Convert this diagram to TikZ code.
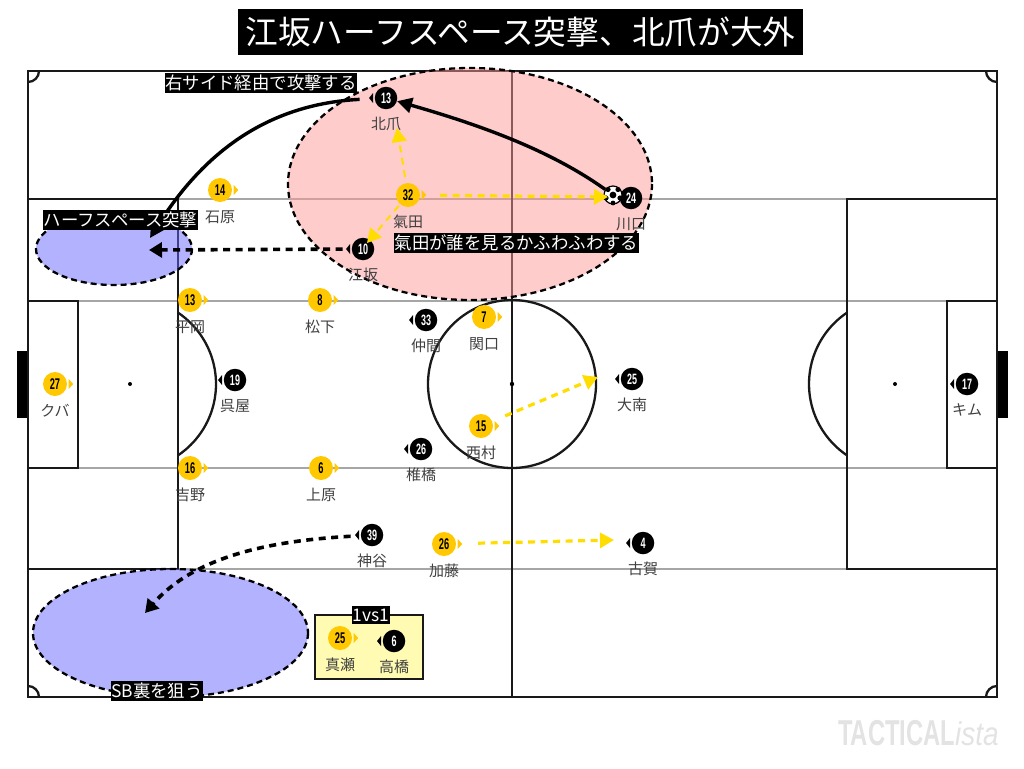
\documentclass[tikz,border=0pt]{standalone}
\usepackage{fontspec}
\newfontfamily\cjk{Noto Sans CJK JP}
\newfontfamily\numfont[FakeStretch=0.6]{Liberation Sans Bold}
\newfontfamily\logofont[FakeStretch=0.66]{Liberation Sans Bold}
\newfontfamily\logoita[FakeStretch=0.85]{Liberation Sans Italic}
\usetikzlibrary{arrows.meta, positioning, calc}

\definecolor{ycol}{HTML}{FFC800}
\definecolor{arrowy}{HTML}{FFDD00}
\definecolor{redzone}{HTML}{FF9999}
\definecolor{bluezone}{HTML}{6666FF}

\begin{document}
\begin{tikzpicture}[
    x=1pt, y=-1pt,
    node distance=7pt,
    % Styles
    pitchline/.style={draw=black!90, line width=2.3pt},
    midline/.style={draw=black!35, line width=2.2pt},
    zone/.style={draw=black, line width=2.3pt, dash pattern=on 6pt off 4pt, fill opacity=0.5},
    yp/.style={circle, fill=ycol, minimum size=24pt, inner sep=0pt, font=\numfont\fontsize{15.5}{15}\selectfont},
    kp/.style={circle, fill=black, text=white, minimum size=22.5pt, inner sep=0pt, font=\numfont\fontsize{15}{15}\selectfont},
    pname/.style={text=black!75, inner sep=0pt, font=\cjk\fontsize{15}{15}\selectfont, minimum height=15pt},
    tag/.style={fill=black, text=white, inner xsep=0.5pt, inner ysep=0pt, minimum height=20pt, font=\cjk\fontsize{17.4}{18}\selectfont},
    attack/.style={-{Triangle[length=15pt,width=15pt]}, line width=3.4pt},
    runk/.style={-{Triangle[length=13pt,width=15pt]}, line width=3.6pt, dash pattern=on 7pt off 5.5pt},
    runy/.style={-{Triangle[length=14pt,width=15pt]}, draw=arrowy, color=arrowy, line width=3.2pt, dash pattern=on 7pt off 5.5pt}
]
    \useasboundingbox (0,0) rectangle (1024,768);

    % --- PITCH ---
    \fill[black] (17,351) rectangle (28,418);
    \fill[black] (997,351) rectangle (1008,418);
    \draw[midline] (178,199) -- (847,199);
    \draw[midline] (78,301) -- (947,301);
    \draw[midline] (78,468) -- (947,468);
    \draw[midline] (178,569) -- (847,569);
    \draw[pitchline] (28,71) rectangle (997,697);
    \draw[pitchline] (512,71) -- (512,697);
    \draw[pitchline] (512,384) circle[radius=84];
    \draw[pitchline] (28,199) rectangle (178,569);
    \draw[pitchline] (847,199) rectangle (997,569);
    \draw[pitchline] (28,301) rectangle (78,468);
    \draw[pitchline] (947,301) rectangle (997,468);
    \begin{scope}
        \clip (178,250) rectangle (300,520);
        \draw[pitchline] (130,384) circle[radius=86];
    \end{scope}
    \begin{scope}
        \clip (700,250) rectangle (847,520);
        \draw[pitchline] (895,384) circle[radius=86];
    \end{scope}
    \fill (130,384) circle[radius=2];
    \fill (512,384) circle[radius=2.2];
    \fill (895,384) circle[radius=2];
    % Corners
    \draw[pitchline] (39,71) arc[start angle=0, end angle=90, radius=11];
    \draw[pitchline] (39,697) arc[start angle=0, end angle=-90, radius=11];
    \draw[pitchline] (986,71) arc[start angle=180, end angle=90, radius=11];
    \draw[pitchline] (986,697) arc[start angle=180, end angle=270, radius=11];

    % --- ZONES ---
    \draw[zone, fill=redzone] (470,184) ellipse[x radius=182, y radius=116];
    \draw[zone, fill=bluezone] (114,249) ellipse[x radius=78, y radius=36];
    \draw[zone, fill=bluezone] (170.5,633) ellipse[x radius=137.5, y radius=64];

    % --- 1VS1 BOX ---
    \draw[draw=black!90, line width=2.2pt, fill=yellow!30] (315,615) rectangle (423,679);

    % --- YELLOW TEAM ---
    \node[yp] (Y14) at (220,190) {14};
    \node[yp] (Y32) at (408,195) {32};
    \node[yp] (Y13) at (190,300) {13};
    \node[yp] (Y8) at (320,300) {8};
    \node[yp] (Y7) at (484,317) {7};
    \node[yp] (Y27) at (55,384) {27};
    \node[yp] (Y15) at (481,426) {15};
    \node[yp] (Y16) at (190,468) {16};
    \node[yp] (Y6) at (321,468) {6};
    \node[yp] (Y26) at (444,544) {26};
    \node[yp] (Y25) at (340,638) {25};

    % --- BLACK TEAM ---
    \node[kp] (K13) at (386,98) {13};
    \node[kp] (K24) at (631,198) {24};
    \node[kp] (K10) at (363,249) {10};
    \node[kp] (K33) at (426,320) {33};
    \node[kp] (K19) at (235,380) {19};
    \node[kp] (K25) at (632,379) {25};
    \node[kp] (K17) at (967,384) {17};
    \node[kp] (K26) at (421,449) {26};
    \node[kp] (K39) at (372,535) {39};
    \node[kp] (K4) at (643,543) {4};
    \node[kp] (K6) at (394,641) {6};

    % Direction marks
    \foreach \n in {Y14,Y32,Y13,Y8,Y7,Y27,Y15,Y16,Y6,Y26,Y25}
        \fill[ycol] ($(\n.east)+(1.5,-5)$) -- ++(4.5,5) -- ++(-4.5,5) -- cycle;
    \foreach \n in {K13,K24,K10,K33,K19,K25,K17,K26,K39,K4,K6}
        \fill[black] ($(\n.west)+(-1.5,-5)$) -- ++(-4,5) -- ++(4,5) -- cycle;

    % --- NAMES ---
    \node[pname, below=of Y14] (nY14) {石原};
    \node[pname, below=of Y32] (nY32) {氣田};
    \node[pname, below=of Y13] (nY13) {平岡};
    \node[pname, below=of Y8] (nY8) {松下};
    \node[pname, below=of Y7] (nY7) {関口};
    \node[pname, below=of Y27] (nY27) {クバ};
    \node[pname, below=of Y15] (nY15) {西村};
    \node[pname, below=of Y16] (nY16) {吉野};
    \node[pname, below=of Y6] (nY6) {上原};
    \node[pname, below=of Y26] (nY26) {加藤};
    \node[pname, below=of Y25] (nY25) {真瀬};
    \node[pname, below=of K13] (nK13) {北爪};
    \node[pname, below=of K24] (nK24) {川口};
    \node[pname, below=of K10] (nK10) {江坂};
    \node[pname, below=of K33] (nK33) {仲間};
    \node[pname, below=of K19] (nK19) {呉屋};
    \node[pname, below=of K25] (nK25) {大南};
    \node[pname, below=of K17] (nK17) {キム};
    \node[pname, below=of K26] (nK26) {椎橋};
    \node[pname, below=of K39] (nK39) {神谷};
    \node[pname, below=of K4] (nK4) {古賀};
    \node[pname, below=of K6] (nK6) {高橋};

    % --- BALL ---
    \node[circle, draw=black, fill=white, line width=1.2pt, minimum size=18pt, inner sep=0pt] (ball) at (613,195) {};
    \fill[black] (613,195) circle[radius=3.4];
    \fill[black] (608,189.5) circle[radius=2.6];
    \fill[black] (618,189.5) circle[radius=2.6];
    \fill[black] (606,198) circle[radius=2.6];
    \fill[black] (620,198) circle[radius=2.6];
    \fill[black] (613,203) circle[radius=2.4];

    % --- FREE ENDS ---
    \coordinate (sideend) at (150,238);
    \coordinate (halfend) at (149,250);
    \coordinate (sbend) at (145,613);
    \coordinate (upend) at (397,128);
    \coordinate (eyeend) at (367,243);
    \coordinate (ballend) at (608,197);
    \coordinate (runend) at (598,377);
    \coordinate (katoend) at (614,540);

    % --- BLACK ARROWS ---
    \draw[attack, shorten <=15pt] (K13) .. controls (270,104) and (205,150) .. (sideend);
    \draw[attack] (ball) .. controls (550,150) and (480,125) .. (K13);
    \draw[runk, shorten <=9pt] (K10) -- (halfend);
    \draw[runk, shorten <=10pt] (K39) .. controls (270,541) and (195,556) .. (sbend);

    % --- YELLOW ARROWS ---
    \draw[runy, line width=2pt, shorten <=6pt] (Y32) -- (upend);
    \draw[runy, shorten <=20pt] (Y32) -- (ballend);
    \draw[runy, line width=2pt, shorten <=2pt] (Y32) -- (eyeend);
    \draw[runy, shorten <=14pt] (Y15) -- (runend);
    \draw[runy, shorten <=22pt] (Y26) -- (katoend);

    % --- TAGS ---
    \node[fill=black, text=white, inner sep=0pt, minimum width=565pt, minimum height=46pt, font=\cjk\fontsize{32.7}{34}\selectfont] (title) at (520.5,32) {江坂ハーフスペース突撃、北爪が大外};
    \node[tag] (sidetag) at (261,83) {右サイド経由で攻撃する};
    \node[tag] (halftag) at (120.5,220) {ハーフスペース突撃};
    \node[tag] (eyetag) at (516.5,242.5) {氣田が誰を見るかふわふわする};
    \node[tag] (sbtag) at (157,690.5) {SB裏を狙う};
    \node[tag, minimum height=18pt] (vstag) at (371,615) {1vs1};

    % --- LOGO ---
    \node[text=black!11, inner sep=0pt, anchor=east] (logo) at (999,733) {\logofont\fontsize{36}{36}\selectfont TACTICAL\logoita\fontsize{33}{36}\selectfont ista};
\end{tikzpicture}
\end{document}
